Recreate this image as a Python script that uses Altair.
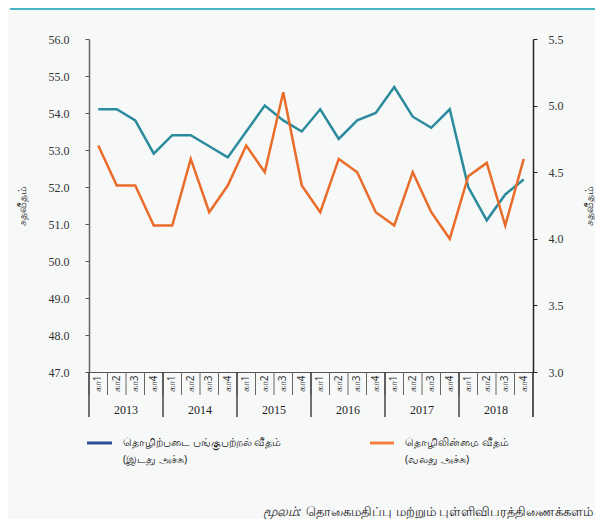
import altair as alt
import pandas as pd

years = ["2013", "2014", "2015", "2016", "2017", "2018"]
quarters = ["கா1", "கா2", "கா3", "கா4"]
participation = [54.1, 54.1, 53.8, 52.9, 53.4, 53.4, 53.1, 52.8, 53.5, 54.2, 53.8, 53.5,
                 54.1, 53.3, 53.8, 54.0, 54.7, 53.9, 53.6, 54.1, 52.0, 51.1, 51.8, 52.2]
unemployment = [4.7, 4.4, 4.4, 4.1, 4.1, 4.6, 4.2, 4.4, 4.7, 4.5, 5.1, 4.4,
                4.2, 4.6, 4.5, 4.2, 4.1, 4.5, 4.2, 4.0, 4.47, 4.57, 4.1, 4.6]
left_ticks = [47, 48, 49, 50, 51, 52, 53, 54, 55, 56]
right_ticks = [3.0, 3.5, 4.0, 4.5, 5.0, 5.5]
legend_lfpr = ["தொழிற்படை பங்குபற்றல் வீதம்", "(இடது அச்சு)"]
legend_unemp = ["தொழிலின்மை வீதம்", "(வலது அச்சு)"]
axis_title = "சதவீதம்"
source_label = "மூலம்:"
source_text = "தொகைமதிப்பு மற்றும் புள்ளிவிபரத்திணைக்களம்"

keys = [f"{y}-{q}" for y in years for q in quarters]
df = pd.DataFrame({"key": keys, "lfpr": participation, "unemp": unemployment})
q1 = pd.DataFrame({"key": [f"{y}-{quarters[0]}" for y in years]})
q3 = pd.DataFrame({"key": [f"{y}-{quarters[2]}" for y in years], "year": years})
last = pd.DataFrame({"key": [keys[-1]]})

SERIF = "Liberation Serif"
TAMIL = "Noto Sans"
BLUE = "#2b8a9c"
ORANGE = "#e96c2a"

xscale = alt.Scale(type="band", domain=keys, paddingInner=0, paddingOuter=0)
xenc = alt.X("key:N", scale=xscale, sort=keys,
             axis=alt.Axis(title=None, ticks=False, labelAngle=270, labelPadding=3,
                           labelFontSize=10, labelFont=TAMIL, labelColor="#333",
                           domainColor="#555", domainWidth=1.2,
                           labelExpr="split(datum.label, '-')[1]"))

blue = alt.Chart(df).mark_line(color=BLUE, strokeWidth=2.5).encode(
    x=xenc,
    y=alt.Y("lfpr:Q", scale=alt.Scale(domain=[47, 56], nice=False, zero=False),
            axis=alt.Axis(values=left_ticks, format=".1f", grid=False, orient="left",
                          title=axis_title, titleFont=TAMIL, titleFontSize=10.5,
                          titleFontWeight="normal", titleColor="#222", titleAngle=270,
                          titleX=-67, titleBaseline="middle",
                          labelFont=SERIF, labelFontSize=12, labelColor="#333",
                          labelPadding=16, tickSize=4, tickColor="#555",
                          domainColor="#666", domainWidth=1.5)),
)

orange = alt.Chart(df).mark_line(color=ORANGE, strokeWidth=2.5).encode(
    x=alt.X("key:N", scale=xscale, sort=keys),
    y=alt.Y("unemp:Q", scale=alt.Scale(domain=[3.0, 5.5], nice=False, zero=False),
            axis=alt.Axis(values=right_ticks, format=".1f", grid=False, orient="right",
                          title=axis_title, titleFont=TAMIL, titleFontSize=10.5,
                          titleFontWeight="normal", titleColor="#222", titleAngle=270,
                          titleX=56, titleBaseline="middle",
                          labelFont=SERIF, labelFontSize=12, labelColor="#333",
                          labelPadding=11, tickSize=4, tickColor="#222",
                          domainColor="#222", domainWidth=1.5)),
)

qsep = alt.Chart(df).mark_rule(color="#666", strokeWidth=1).encode(
    x=alt.X("key:N", scale=xscale, sort=keys, bandPosition=0),
    y=alt.value(333), y2=alt.value(356))

ysep = alt.Chart(q1).mark_rule(color="#444", strokeWidth=1.5).encode(
    x=alt.X("key:N", scale=xscale, sort=keys, bandPosition=0),
    y=alt.value(333), y2=alt.value(378))

yend = alt.Chart(last).mark_rule(color="#222", strokeWidth=1.5).encode(
    x=alt.X("key:N", scale=xscale, sort=keys, bandPosition=1),
    y=alt.value(333), y2=alt.value(378))

ylab = alt.Chart(q3).mark_text(font=SERIF, fontSize=12, color="#222", baseline="middle").encode(
    x=alt.X("key:N", scale=xscale, sort=keys, bandPosition=0),
    y=alt.value(371), text="year:N")

leg = pd.DataFrame({"t": [legend_lfpr]})
leg_sym1 = alt.Chart(leg).mark_rule(color="#2e4d96", strokeWidth=3).encode(
    x=alt.value(-2), x2=alt.value(23), y=alt.value(404))
leg_sym2 = alt.Chart(leg).mark_rule(color="#f47f3e", strokeWidth=3).encode(
    x=alt.value(281), x2=alt.value(305), y=alt.value(404))
leg_t1 = alt.Chart(pd.DataFrame({"t": [legend_lfpr]})).mark_text(
    font=TAMIL, fontSize=10.5, color="#222", align="left", baseline="middle", lineHeight=17).encode(
    x=alt.value(34), y=alt.value(404), text="t")
leg_t2 = alt.Chart(pd.DataFrame({"t": [legend_unemp]})).mark_text(
    font=TAMIL, fontSize=10.5, color="#222", align="left", baseline="middle", lineHeight=17).encode(
    x=alt.value(316), y=alt.value(404), text="t")

src1 = alt.Chart(pd.DataFrame({"t": [source_text]})).mark_text(
    font=TAMIL, fontSize=13, color="#222", align="right", baseline="middle").encode(
    x=alt.value(504), y=alt.value(473), text="t:N")
src2 = alt.Chart(pd.DataFrame({"t": [source_label]})).mark_text(
    font=TAMIL, fontSize=13, color="#222", align="right", baseline="middle", fontStyle="italic").encode(
    x=alt.value(212), y=alt.value(473), text="t:N")

topline = alt.Chart(pd.DataFrame({"t": [1]})).mark_rule(color="#4ab5c4", strokeWidth=2).encode(
    x=alt.value(-79), x2=alt.value(506), y=alt.value(-30))

chart = alt.layer(
    qsep, ysep, yend, ylab, blue, orange,
    leg_sym1, leg_sym2, leg_t1, leg_t2, src1, src2, topline
).resolve_scale(y="independent").properties(
    width=444, height=333,
    autosize=alt.AutoSizeParams(type="none"),
    padding={"left": 81, "top": 31, "right": 62, "bottom": 147},
    background="#f7f9f9",
).configure_view(stroke=None)

chart.save("out.html", embed_options={"renderer": "svg", "actions": False})
